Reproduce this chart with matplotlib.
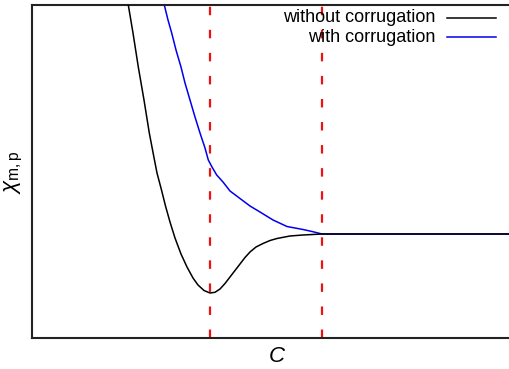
import matplotlib
matplotlib.use("Agg")
import matplotlib.pyplot as plt

plt.rcParams["font.family"] = ["Liberation Sans", "DejaVu Sans"]
plt.rcParams["mathtext.fontset"] = "custom"
plt.rcParams["mathtext.rm"] = "Liberation Sans"
plt.rcParams["mathtext.it"] = "Liberation Sans:italic"
plt.rcParams["lines.scale_dashes"] = False

# Susceptibility vs. coupling C (arbitrary units)
c_flat = [0.945, 0.963, 1.01, 1.063, 1.12, 1.173, 1.215, 1.25, 1.295, 1.335, 1.38,
          1.43, 1.49, 1.55, 1.61, 1.66, 1.72, 1.78, 1.83, 1.88, 1.93, 1.98, 2.03,
          2.08, 2.13, 2.18, 2.24, 2.31, 2.38, 2.45, 2.58, 2.71, 2.90, 4.78]
chi_flat = [3.43, 3.33, 3.05, 2.71, 2.38, 2.05, 1.83, 1.65, 1.48, 1.32, 1.16,
            1.00, 0.84, 0.71, 0.60, 0.53, 0.475, 0.45, 0.457, 0.49, 0.545, 0.61, 0.675,
            0.74, 0.805, 0.86, 0.91, 0.945, 0.975, 0.995, 1.02, 1.03, 1.04, 1.04]

c_corr = [1.297, 1.323, 1.36, 1.397, 1.44, 1.49, 1.53, 1.58, 1.63, 1.68, 1.73,
          1.763, 1.80, 1.847, 1.91, 1.98, 2.08, 2.18, 2.28, 2.41, 2.55, 2.71, 2.80,
          2.90, 4.78]
chi_corr = [3.43, 3.33, 3.18, 3.05, 2.88, 2.71, 2.55, 2.38, 2.21, 2.05, 1.90,
            1.78, 1.71, 1.63, 1.56, 1.47, 1.395, 1.32, 1.26, 1.18, 1.115, 1.085, 1.065,
            1.04, 1.04]

c_marks = [1.78, 2.90]
labels = ["without corrugation", "with corrugation"]
colors = ["black", "#0000ee"]

W, H = 510, 369
fig = plt.figure(figsize=(W / 100, H / 100), dpi=100)
ax = fig.add_axes([32 / W, 1 - 338 / H, 1 - 32 / W, (338 - 5) / H])

for c in c_marks:
    ax.axvline(c, color="#ee1111", lw=1.6, dashes=(6.1, 10.5), zorder=1)

ax.plot(c_flat, chi_flat, color=colors[0], lw=1.1, zorder=3)
ax.plot(c_corr, chi_corr, color=colors[1], lw=1.1, zorder=2)

ax.set_xlim(0, 4.78)
ax.set_ylim(0, 3.33)
ax.set_xticks([])
ax.set_yticks([])
for side in ["top", "left", "bottom"]:
    ax.spines[side].set_linewidth(1.5)
    ax.spines[side].set_color("#222222")
ax.spines["right"].set_visible(False)

# key in the upper right
for i, (lab, col) in enumerate(zip(labels, colors)):
    y = 1 - (18 + 19 * i - 5) / 333
    ax.text((435 - 32) / 478, y, lab, transform=ax.transAxes, ha="right",
            va="center", fontsize=13)
    ax.plot([(447 - 32) / 478, (496 - 32) / 478], [y, y], transform=ax.transAxes,
            color=col, lw=1.1, clip_on=False)

fig.text(277 / W, 1 - 356 / H, "$\\mathit{C}$", ha="center", va="center", fontsize=16)
fig.text(14 / W, 1 - 172 / H, "$\\chi_{\\rm m,p}$", ha="center", va="center",
         rotation=90, fontsize=16)

fig.savefig("out.png", dpi=100)
